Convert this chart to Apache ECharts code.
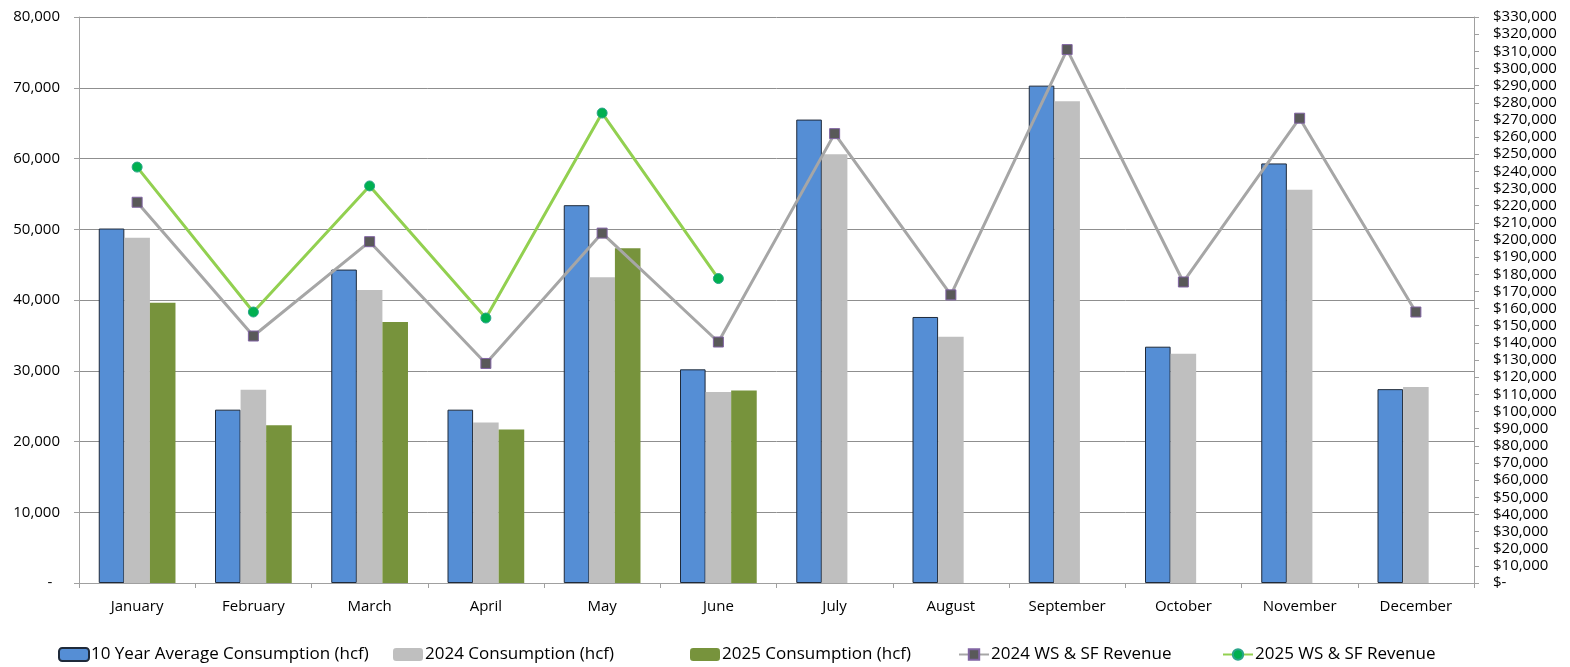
<!DOCTYPE html>
<html>
<head>
<meta charset="utf-8">
<script src="https://cdn.jsdelivr.net/npm/echarts@6/dist/echarts.min.js"></script>
<style>
  html, body { margin: 0; padding: 0; background: #ffffff; }
  #chart { width: 1570px; height: 667px; }
</style>
</head>
<body>
<div id="chart"></div>
<script>
// Monthly consumption (hcf) and revenue ($)
const months = ['January', 'February', 'March', 'April', 'May', 'June',
                'July', 'August', 'September', 'October', 'November', 'December'];
const avgConsumption10yr = [50100, 24500, 44300, 24500, 53400, 30200, 65500, 37600, 70300, 33400, 59300, 27400];
const consumption2024 = [48800, 27300, 41400, 22700, 43200, 27000, 60600, 34800, 68100, 32400, 55600, 27700];
const consumption2025 = [39600, 22300, 36900, 21700, 47300, 27200, null, null, null, null, null, null];
const revenue2024 = [222000, 144000, 199000, 128000, 204000, 140500, 262000, 168000, 311000, 175500, 271000, 158000];
const revenue2025 = [242500, 158000, 231500, 154500, 274000, 177500, null, null, null, null, null, null];

const seriesNames = [
  '10 Year Average Consumption (hcf)',
  '2024 Consumption (hcf)',
  '2025 Consumption (hcf)',
  '2024 WS & SF Revenue',
  '2025 WS & SF Revenue'
];

const FONT = "'Open Sans', 'Noto Sans', sans-serif";
const fmt = v => v.toLocaleString('en-US');

// One legend block per series so each entry sits at its own left offset
const legendLefts = [58, 393, 690, 958, 1222];
const legends = seriesNames.map((name, i) => ({
  data: [name],
  left: legendLefts[i],
  top: 646,
  padding: 0,
  itemWidth: 30,
  itemHeight: 13,
  textStyle: { fontFamily: FONT, fontSize: 17, color: '#000', padding: [0, 0, 0, -3] }
}));

const chart = echarts.init(document.getElementById('chart'), null, { renderer: 'canvas' });

chart.setOption({
  animation: false,
  backgroundColor: '#ffffff',
  textStyle: { fontFamily: FONT, color: '#000' },
  grid: { left: 79, right: 96, top: 17, bottom: 84, containLabel: false },
  legend: legends,
  xAxis: {
    type: 'category',
    data: months,
    axisLine: { lineStyle: { color: '#a0a0a0', width: 1 } },
    axisTick: { show: true, length: 5, lineStyle: { color: '#a0a0a0' } },
    axisLabel: { fontFamily: FONT, fontSize: 15, color: '#000', margin: 16 }
  },
  yAxis: [
    {
      type: 'value',
      min: 0, max: 80000, interval: 10000,
      axisLine: { show: true, lineStyle: { color: '#a0a0a0' } },
      axisTick: { show: true, length: 5, lineStyle: { color: '#a0a0a0' } },
      splitLine: { show: true, lineStyle: { color: '#8f8f8f', width: 1 } },
      axisLabel: {
        fontFamily: FONT, fontSize: 15, color: '#000', margin: 19,
        formatter: v => v === 0 ? '-  ' : fmt(v)
      }
    },
    {
      type: 'value',
      min: 0, max: 330000, interval: 10000,
      position: 'right',
      axisLine: { show: true, lineStyle: { color: '#a0a0a0' } },
      axisTick: { show: true, length: 5, lineStyle: { color: '#a0a0a0' } },
      splitLine: { show: false },
      axisLabel: {
        fontFamily: FONT, fontSize: 15, color: '#000', margin: 19,
        formatter: v => v === 0 ? '$-' : '$' + fmt(v)
      }
    }
  ],
  series: [
    {
      name: seriesNames[0],
      type: 'bar',
      data: avgConsumption10yr,
      barGap: '0%',
      barCategoryGap: '34%',
      itemStyle: { color: '#558ed5', borderColor: '#1f2a3a', borderWidth: 1 }
    },
    {
      name: seriesNames[1],
      type: 'bar',
      data: consumption2024,
      itemStyle: { color: '#bfbfbf' }
    },
    {
      name: seriesNames[2],
      type: 'bar',
      data: consumption2025,
      itemStyle: { color: '#77933c' }
    },
    {
      name: seriesNames[3],
      type: 'line',
      yAxisIndex: 1,
      data: revenue2024,
      symbol: 'rect',
      symbolSize: 10,
      lineStyle: { color: '#a6a6a6', width: 3 },
      itemStyle: { color: '#595959', borderColor: '#8064a2', borderWidth: 1 },
      z: 5
    },
    {
      name: seriesNames[4],
      type: 'line',
      yAxisIndex: 1,
      data: revenue2025,
      symbol: 'circle',
      symbolSize: 10,
      lineStyle: { color: '#92d050', width: 3 },
      itemStyle: { color: '#00b050', borderColor: '#2aa58a', borderWidth: 1 },
      z: 6
    }
  ]
});
</script>
</body>
</html>
